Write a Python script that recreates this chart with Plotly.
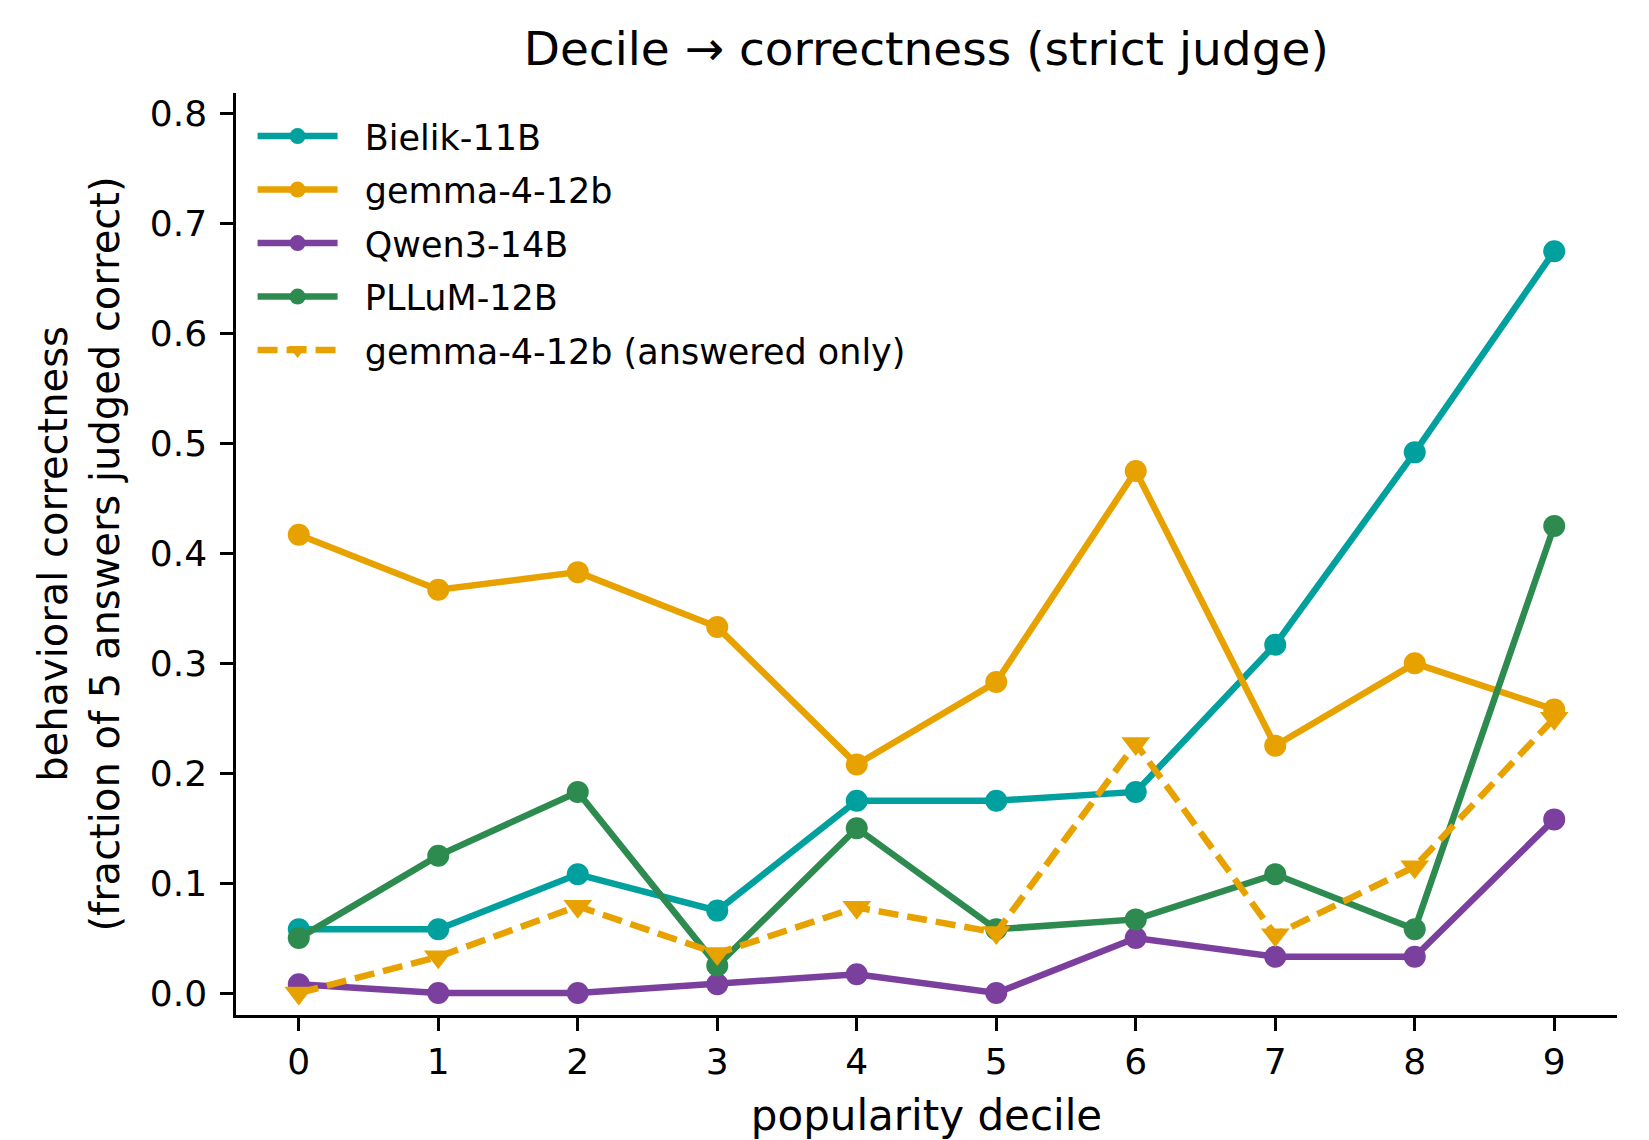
import plotly.graph_objects as go

deciles = [0, 1, 2, 3, 4, 5, 6, 7, 8, 9]
bielik = [0.058, 0.058, 0.108, 0.075, 0.175, 0.175, 0.183, 0.317, 0.492, 0.675]
gemma = [0.417, 0.367, 0.383, 0.333, 0.208, 0.283, 0.475, 0.225, 0.300, 0.258]
qwen = [0.008, 0.000, 0.000, 0.008, 0.017, 0.000, 0.050, 0.033, 0.033, 0.158]
pllum = [0.050, 0.125, 0.183, 0.025, 0.150, 0.058, 0.067, 0.108, 0.058, 0.425]
gemma_answered = [0.000, 0.033, 0.079, 0.036, 0.078, 0.055, 0.227, 0.053, 0.115, 0.250]

series = [
    ("Bielik-11B", bielik, "#00A09F", "solid", "circle"),
    ("gemma-4-12b", gemma, "#E8A200", "solid", "circle"),
    ("Qwen3-14B", qwen, "#7B3F9E", "solid", "circle"),
    ("PLLuM-12B", pllum, "#2E8B50", "solid", "circle"),
    ("gemma-4-12b (answered only)", gemma_answered, "#E8A200", "20px,9px", "triangle-down"),
]

fig = go.Figure()
for i, (name, vals, color, dash, sym) in enumerate(series):
    fig.add_trace(go.Scatter(
        x=deciles, y=vals, name="\u00a0\u00a0" + name, mode="lines+markers", legendgroup=f"g{i}",
        line=dict(color=color, width=6.5, dash=dash),
        marker=dict(color=color, size=22 if sym == "circle" else 25, symbol=sym),
    ))

font = "DejaVu Sans, sans-serif"
fig.update_layout(
    width=1649, height=1140,
    margin=dict(l=236, r=32, t=93, b=125),
    paper_bgcolor="white", plot_bgcolor="white",
    font=dict(family=font, size=36, color="black"),
    title=dict(text="Decile \u2192 correctness (strict judge)", x=0.5617, xanchor="center",
               y=0.957, yanchor="middle", font=dict(size=47)),
    legend=dict(x=0.012, y=0.985, xanchor="left", yanchor="top", bgcolor="rgba(0,0,0,0)",
                font=dict(size=35), tracegroupgap=5, itemwidth=80),
    showlegend=True,
)
fig.update_xaxes(
    range=[-0.45, 9.45], tickmode="array", tickvals=deciles, ticktext=[str(d) for d in deciles],
    showgrid=False, zeroline=False, showline=True, linecolor="black", linewidth=2.5,
    ticks="outside", ticklen=13, tickwidth=2.5, tickcolor="black", ticklabelstandoff=0,
    automargin=False,
    title=dict(text="popularity decile", font=dict(size=42), standoff=26),
)
fig.update_yaxes(
    range=[-0.02, 0.819], tickmode="array", tickvals=[0, 0.1, 0.2, 0.3, 0.4, 0.5, 0.6, 0.7, 0.8],
    tickformat=".1f",
    showgrid=False, zeroline=False, showline=True, linecolor="black", linewidth=2.5,
    ticks="outside", ticklen=13, tickwidth=2.5, tickcolor="black", ticklabelstandoff=6,
    automargin=False,
    title=dict(text="behavioral correctness<br>(fraction of 5 answers judged correct)", font=dict(size=40), standoff=18),
)
fig.write_html("out.html")
